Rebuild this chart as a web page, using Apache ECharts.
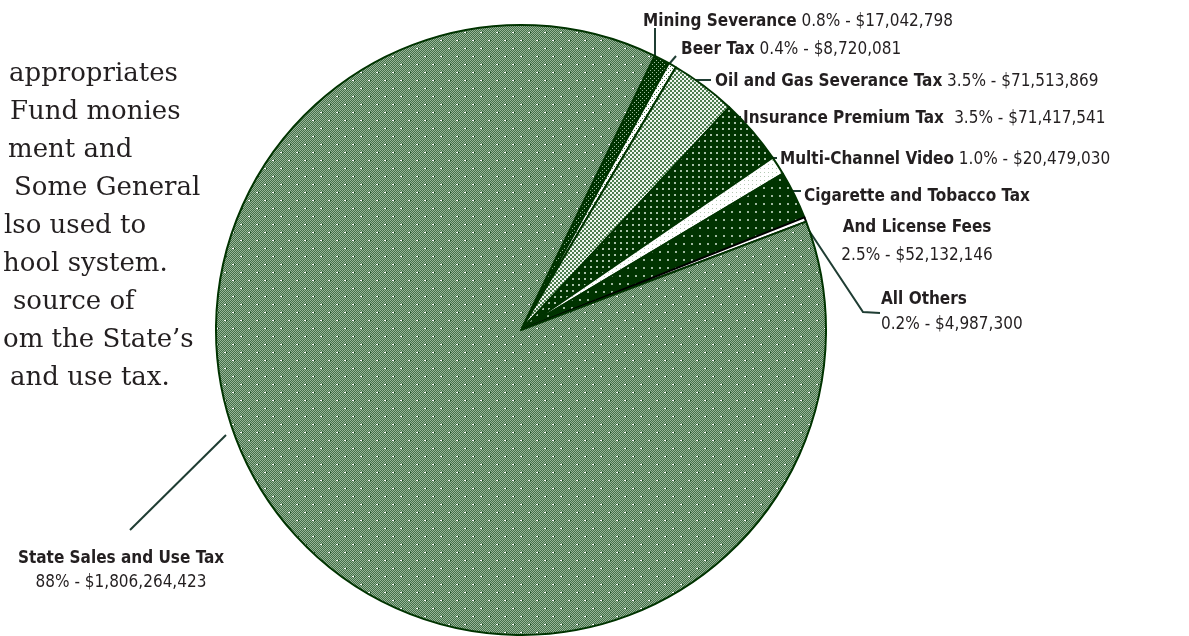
<!DOCTYPE html>
<html><head><meta charset="utf-8">
<script src="https://cdn.jsdelivr.net/npm/echarts@6/dist/echarts.min.js"></script>
<style>html,body{margin:0;padding:0;background:#fff}#c{width:1189px;height:636px}</style>
</head><body><div id="c"></div>
<script>
// ---- data ----
const categories = ['Mining Severance', 'Beer Tax', 'Oil and Gas Severance Tax', 'Insurance Premium Tax ', 'Multi-Channel Video', 'Cigarette and Tobacco Tax\nAnd License Fees', 'All Others', 'State Sales and Use Tax'];
const values = [17042798, 8720081, 71513869, 71417541, 20479030, 52132146, 4987300, 1806264423];
const pctLabels = ['0.8%', '0.4%', '3.5%', '3.5%', '1.0%', '2.5%', '0.2%', '88%'];
const noteLines = ['appropriates', 'Fund monies', 'ment and', 'Some General', 'lso used to', 'hool system.', 'source of', 'om the State\u2019s', 'and use tax.'];

// ---- layout / style ----
const narrow = '"Liberation Sans Narrow","DejaVu Sans Condensed",sans-serif';
const FS = 17;
const noteX = [9, 10, 8, 14, 4, 3, 13, 3, 10];
const labelPos = [
  {x: 643, y: 22, align: 'left', va: 'middle', line: [[655, 57], [655, 28]]},
  {x: 681, y: 50, align: 'left', va: 'middle', line: [[670, 63], [676, 56]]},
  {x: 715, y: 82, align: 'left', va: 'middle', line: [[695, 80], [711, 80]]},
  {x: 743, y: 119, align: 'left', va: 'middle', line: [[730, 117], [741, 117]]},
  {x: 780, y: 160, align: 'left', va: 'middle', line: [[760, 158], [777, 158]]},
  {x: 917, y: 181.5, align: 'center', va: 'top', line: [[775, 191], [801, 191]]},
  {x: 881, y: 287.5, align: 'left', va: 'top', line: [[806, 226], [863, 312], [880, 313]]},
  {x: 121, y: 546, align: 'center', va: 'top', line: [[226, 435], [130, 530]]}
];

function pattern(size, draw) {
  const c = document.createElement('canvas');
  c.width = c.height = size;
  const g = c.getContext('2d');
  draw(g, size);
  return {image: c, repeat: 'repeat'};
}
const DK = '#003300';
const patSales = pattern(16, (g, s) => {
  for (let y = 0; y < s; y++) for (let x = 0; x < s; x++) {
    g.fillStyle = ((x + y) % 2) ? '#446f49' : '#98b598';
    g.fillRect(x, y, 1, 1);
  }
  g.fillStyle = '#ffffff';
  g.fillRect(0, 0, 2, 1); g.fillRect(8, 8, 2, 1);
  g.fillStyle = '#1f4a25';
  g.fillRect(2, 0, 1, 1); g.fillRect(10, 8, 1, 1);
});
const patMining = pattern(4, (g, s) => {
  g.fillStyle = DK; g.fillRect(0, 0, s, s);
  g.fillStyle = '#9fbf9f'; g.fillRect(0, 0, 1, 1); g.fillRect(2, 2, 1, 1);
});
const patBeer = pattern(4, (g, s) => {
  g.fillStyle = '#ffffff'; g.fillRect(0, 0, s, s);
  g.fillStyle = '#3d6d3d'; g.fillRect(0, 0, 1, 1); g.fillRect(2, 2, 1, 1);
});
const patOil = pattern(4, (g, s) => {
  g.fillStyle = '#eef4ee'; g.fillRect(0, 0, s, s);
  g.fillStyle = '#4d7d4f'; g.fillRect(0, 0, 2, 2); g.fillRect(2, 2, 2, 2);
  g.fillStyle = '#ffffff'; g.fillRect(3, 0, 1, 1);
});
const patIns = pattern(6, (g, s) => {
  g.fillStyle = DK; g.fillRect(0, 0, s, s);
  g.fillStyle = '#a8c0a8'; g.fillRect(2, 2, 2, 2);
});
const patMulti = pattern(4, (g, s) => {
  g.fillStyle = '#ffffff'; g.fillRect(0, 0, s, s);
  g.fillStyle = '#b5c9b5'; g.fillRect(0, 0, 1, 1);
});
const patCig = pattern(8, (g, s) => {
  g.fillStyle = DK; g.fillRect(0, 0, s, s);
  g.fillStyle = '#9fb89f'; g.fillRect(3, 3, 2, 2);
});
const fills = [patMining, patBeer, patOil, patIns, patMulti, patCig, '#ffffff', patSales];
const borders = [DK, DK, DK, DK, DK, DK, '#000000', DK];

function fmtMoney(v) { return '$' + v.toLocaleString('en-US'); }

const data = categories.map((name, i) => ({
  name: name,
  value: values[i],
  itemStyle: {color: fills[i], borderColor: borders[i], borderWidth: 2}
}));

const chart = echarts.init(document.getElementById('c'), null, {renderer: 'canvas'});
chart.setOption({
  animation: false,
  backgroundColor: '#ffffff',
  graphic: noteLines.map((t, i) => ({
    type: 'text', left: noteX[i], top: 76 + i * 38 - 15,
    style: {text: t, font: '26px "DejaVu Serif", serif', fill: '#231f20'}
  })),
  series: [{
    type: 'pie',
    center: [521, 330],
    radius: 305,
    startAngle: 64,
    clockwise: true,
    avoidLabelOverlap: false,
    data: data,
    label: {
      show: true,
      position: 'outside',
      color: '#231f20',
      fontFamily: narrow,
      fontSize: FS,
      formatter: (p) => {
        const i = p.dataIndex;
        const v = pctLabels[i] + ' - ' + fmtMoney(values[i]);
        const parts = categories[i].split('\n');
        const tag = parts.length > 1 ? 'bc' : 'b';
        const nm = parts.map(s => '{' + tag + '|' + s + '}').join('\n');
        if (i >= 5) return nm + '\n{v|' + v + '}';
        return nm + ' {v|' + v + '}';
      },
      rich: {
        b: {fontFamily: narrow, fontSize: FS, fontWeight: 'bold', color: '#231f20', lineHeight: 25},
        bc: {fontFamily: narrow, fontSize: FS, fontWeight: 'bold', color: '#231f20', lineHeight: 31},
        v: {fontFamily: narrow, fontSize: FS, color: '#231f20', lineHeight: 24}
      }
    },
    labelLine: {show: true, lineStyle: {color: '#1f3d33', width: 2}},
    labelLayout: (params) => {
      const L = labelPos[params.dataIndex];
      return {x: L.x, y: L.y, align: L.align, verticalAlign: L.va, labelLinePoints: L.line};
    },
    emphasis: {disabled: true}
  }]
});
</script></body></html>
